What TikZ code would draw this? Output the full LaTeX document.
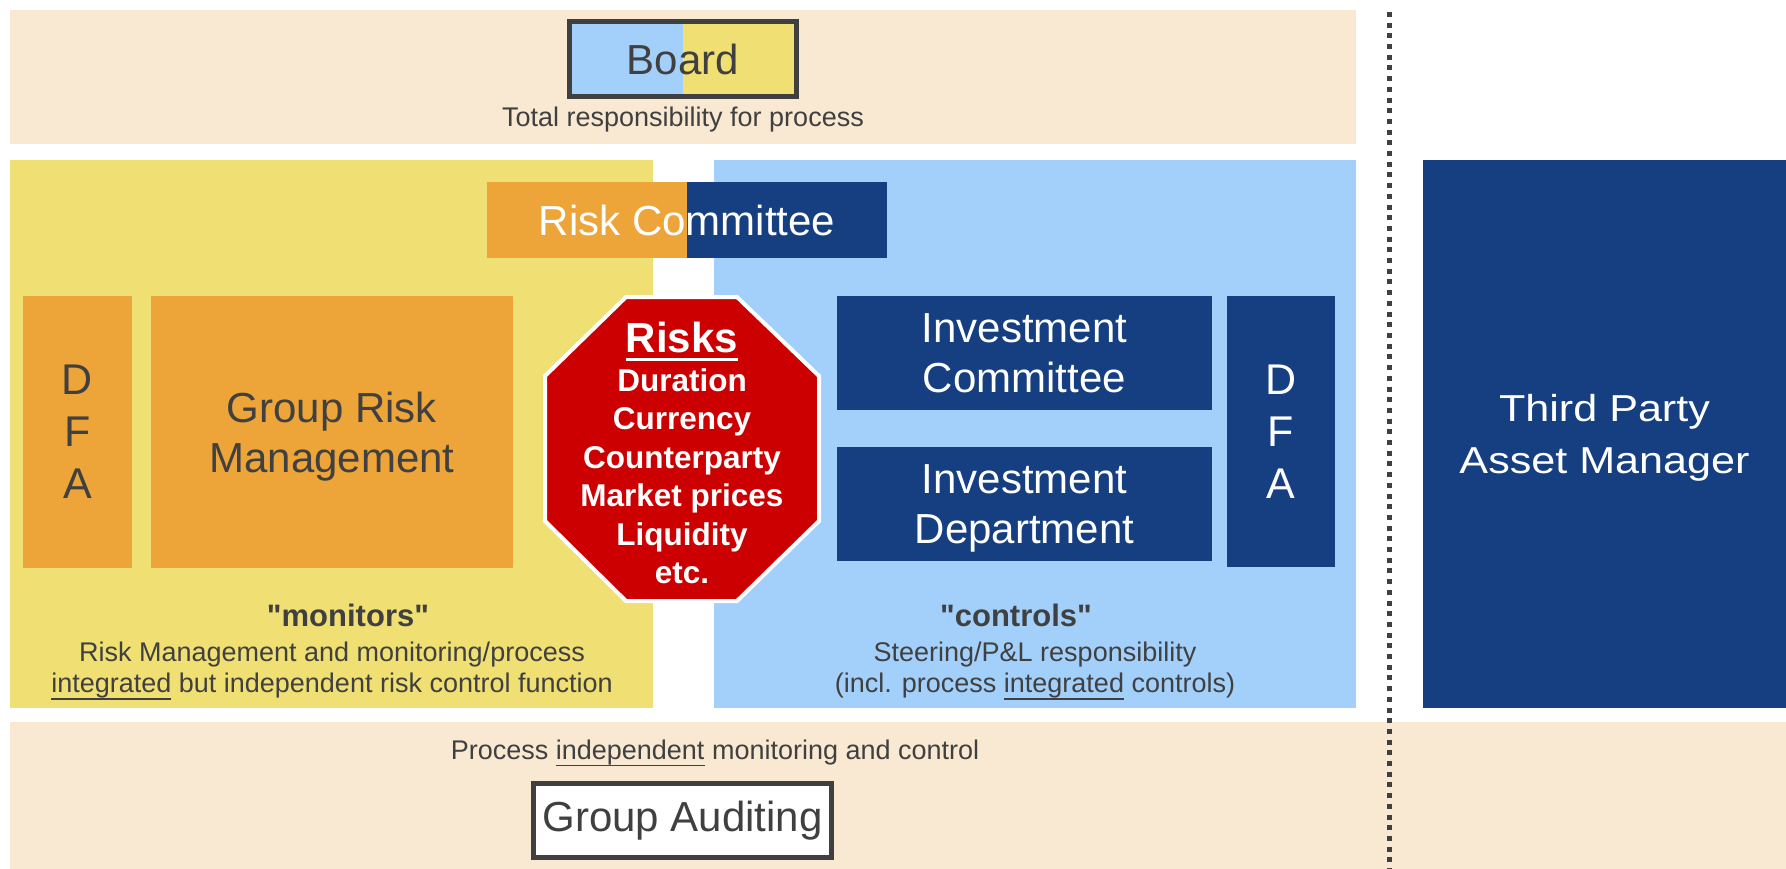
\documentclass[tikz,border=0pt]{standalone}
\usepackage{fontspec}
\setmainfont{Liberation Sans}
\newfontfamily\widefont{Liberation Sans}[FakeStretch=1.15]
\usepackage{xcolor}

\definecolor{sand}{HTML}{FAE9D2}
\definecolor{monyellow}{HTML}{F0DF72}
\definecolor{ctrlblue}{HTML}{A3D0FB}
\definecolor{riskorange}{HTML}{EDA53A}
\definecolor{invblue}{HTML}{163F82}
\definecolor{riskred}{HTML}{CC0000}
\definecolor{textgray}{HTML}{404040}

\newcommand{\fsz}[2]{\fontsize{#1}{#2}\selectfont}
\newcommand{\ulbox}[3]{\vtop{\hbox{#3}\kern#1\hrule height #2}}

\tikzset{
  block/.style={rectangle, inner sep=0pt, outer sep=0pt, align=center},
  orangebox/.style={block, fill=riskorange, text=textgray},
  bluebox/.style={block, fill=invblue, text=white},
  outlined/.style={block, draw=textgray, line width=5pt},
  note/.style={align=center, inner sep=0pt, text=textgray, font=\fsz{27}{31}},
  halves/.style 2 args={path picture={
      \fill[#1] (path picture bounding box.south west) rectangle (path picture bounding box.north);
      \fill[#2] (path picture bounding box.north) rectangle (path picture bounding box.south east);}},
}

\begin{document}
\begin{tikzpicture}[x=1pt, y=-1pt]
\useasboundingbox (0,0) rectangle (1786,869);
%
% bands and panels
\fill[sand] (10,10) rectangle (1356,144);
\fill[sand] (10,722) rectangle (1786,869);
\fill[monyellow] (10,160) rectangle (653,708);
\fill[ctrlblue] (714,160) rectangle (1356,708);
%
% separator to the outside manager
\coordinate (septop) at (1389,12);
\coordinate (sepbot) at (1389,869);
\draw[textgray, line width=5pt, dash pattern=on 5pt off 5.7pt] (septop) -- (sepbot);
%
% top: board
\node[outlined, halves={ctrlblue}{monyellow}, text=textgray, minimum width=227pt, minimum height=75pt, font=\fsz{42}{50}] (board) at (683,59) {Board};
\node[note] (boardnote) at (683,120) {Total responsibility for process};
%
\node[block, halves={riskorange}{invblue}, text=white, minimum width=400pt, minimum height=76pt, font=\fsz{42}{50}] (riskcom) at (687,220) {Risk Committee};
%
% monitoring side
\node[orangebox, minimum width=109pt, minimum height=272pt, font=\fsz{43}{52}] (dfaleft) at (77.5,432) {D\\F\\A};
\node[orangebox, minimum width=362pt, minimum height=272pt, text depth=0pt, font=\fsz{42}{50}] (grm) at (332,432) {Group Risk\\Management};
\node[note] (monitors) at (332,652) {\hspace*{32pt}{\bfseries\fsz{31}{36}\textquotedbl monitors\textquotedbl}\\[4pt]Risk Management and monitoring/process\\\ulbox{0pt}{1.5pt}{integrated} but independent risk control function};
%
% controlling side
\node[bluebox, minimum width=375pt, minimum height=114pt, font=\fsz{42}{50}] (invcom) at (1024.5,353) {Investment\\Committee};
\node[bluebox, minimum width=375pt, minimum height=114pt, text depth=0pt, font=\fsz{42}{50}] (invdep) at (1024.5,504) {Investment\\Department};
\node[bluebox, minimum width=108pt, minimum height=271pt, font=\fsz{43}{52}] (dfaright) at (1281,431.5) {D\\F\\A};
\node[note] (controls) at (1035,652) {{\bfseries\fsz{31}{36}\textquotedbl controls\textquotedbl}\hspace*{38pt}\\[4pt]Steering/P\&L responsibility\\(incl. process \ulbox{0pt}{1.5pt}{integrated} controls)};
%
% risks in the middle
\filldraw[fill=riskred, draw=white, line width=4pt] (626,297) -- (737,297) -- (819,376) -- (819,521) -- (737,601) -- (626,601) -- (545,521) -- (545,376) -- cycle;
\node[align=center, inner sep=0pt, text=white, font=\bfseries\fsz{31.5}{38.5}] (risks) at (682,453) {{\fsz{42}{40}\ulbox{5pt}{3.5pt}{Risks}}\\Duration\\Currency\\Counterparty\\Market prices\\Liquidity\\etc.};
%
\node[bluebox, minimum width=363pt, minimum height=548pt, text depth=0pt, font=\widefont\fsz{37.5}{52}] (thirdparty) at (1604.5,434) {Third Party\\Asset Manager};
%
% bottom: auditing
\node[note] (auditnote) at (715,753) {Process \ulbox{0pt}{1.5pt}{independent} monitoring and control};
\node[outlined, fill=white, text=textgray, minimum width=298pt, minimum height=74pt, font=\fsz{42}{50}] (audit) at (682.5,820.5) {Group Auditing};
\end{tikzpicture}
\end{document}
